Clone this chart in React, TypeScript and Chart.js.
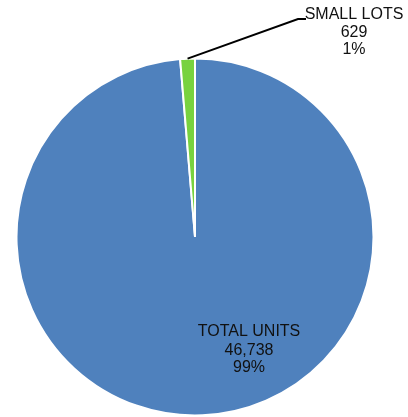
import React, { useEffect, useRef } from "react";
import { Chart, registerables } from "chart.js";

Chart.register(...registerables);

const categories = ["TOTAL UNITS", "SMALL LOTS"];
const values = [46738, 629];
const colors = ["#4F81BD", "#78D23F"];

const labelPlugin = {
  id: "customLabels",
  afterDatasetsDraw(chart: any) {
    const ctx = chart.ctx;
    const meta = chart.getDatasetMeta(0);
    const arc0 = meta.data[0];
    const arc1 = meta.data[1];
    if (!arc0 || !arc1) return;
    const cx = arc0.x;
    const cy = arc0.y;
    const r = arc0.outerRadius;
    const total = values.reduce((a, b) => a + b, 0);
    const fmt = (v: number) => v.toLocaleString("en-US");
    const pct = (v: number) => Math.round((v / total) * 100) + "%";

    ctx.save();
    ctx.fillStyle = "#111";
    ctx.textAlign = "center";
    ctx.textBaseline = "middle";
    ctx.font = "16px 'Liberation Sans', Arial, sans-serif";

    // Inside label for first slice
    const lx = cx + 54;
    const ly = cy + 95;
    ctx.fillText(categories[0], lx, ly);
    ctx.fillText(fmt(values[0]), lx, ly + 19);
    ctx.fillText(pct(values[0]), lx, ly + 36);

    // Leader line for second slice
    const mid = (arc1.startAngle + arc1.endAngle) / 2;
    const sx = cx + Math.cos(mid) * r;
    const sy = cy + Math.sin(mid) * r;
    const ex = cx + 103;
    const ey = 19;
    ctx.strokeStyle = "#000";
    ctx.lineWidth = 2;
    ctx.beginPath();
    ctx.moveTo(sx, sy);
    ctx.lineTo(ex, ey);
    ctx.lineTo(ex + 8, ey);
    ctx.stroke();

    const tx = cx + 159;
    ctx.fillText(categories[1], tx, 15);
    ctx.fillText(fmt(values[1]), tx, 33);
    ctx.fillText(pct(values[1]), tx, 50);
    ctx.restore();
  },
};

export default function App() {
  const ref = useRef<HTMLCanvasElement | null>(null);
  useEffect(() => {
    document.body.style.margin = "0";
    if (!ref.current) return;
    const chart = new Chart(ref.current, {
      type: "pie",
      data: {
        labels: categories,
        datasets: [
          {
            data: values,
            backgroundColor: colors,
            borderColor: "#ffffff",
            borderWidth: 2,
          },
        ],
      },
      options: {
        animation: false,
        responsive: false,
        layout: { padding: { left: 15.5, right: 33.5, top: 57.5, bottom: 0.5 } },
        plugins: {
          legend: { display: false },
          tooltip: { enabled: false },
        },
      },
      plugins: [labelPlugin],
    });
    return () => chart.destroy();
  }, []);
  return (
    <div style={{ width: 408, height: 417 }}>
      <canvas ref={ref} width={408} height={417} style={{ display: "block" }} />
    </div>
  );
}
